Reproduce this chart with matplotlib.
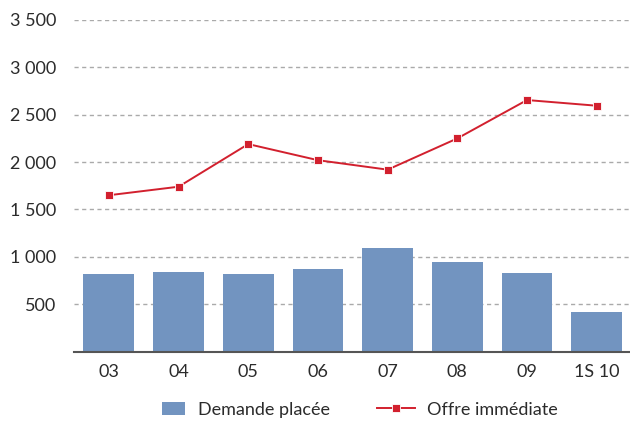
import matplotlib.pyplot as plt
from matplotlib.legend_handler import HandlerPatch
from matplotlib.patches import Rectangle
from matplotlib.ticker import FixedLocator, FuncFormatter

# Données (milliers de m²)
periodes = ["03", "04", "05", "06", "07", "08", "09", "1S 10"]
demande_placee = [820, 840, 820, 870, 1095, 945, 830, 420]
offre_immediate = [1650, 1740, 2190, 2020, 1920, 2250, 2655, 2595]
graduations = [500, 1000, 1500, 2000, 2500, 3000, 3500]

couleur_barres = "#7294c0"
couleur_ligne = "#d2202e"
couleur_texte = "#2b2b2b"

plt.rcParams["font.family"] = ["Lato", "DejaVu Sans"]


def carre_legende(legend, orig_handle, xdescent, ydescent, width, height, fontsize):
    # petit rectangle aligné à droite de la zone de symbole
    w = width * 0.62
    return Rectangle((width - w - xdescent, -ydescent), w, height)


fig = plt.figure(figsize=(6.3, 4.21), dpi=100)
ax = fig.add_axes([0.1175, 0.165, 0.885, 0.7875])

x = range(len(periodes))
barres = ax.bar(x, demande_placee, width=0.73, color=couleur_barres, zorder=2,
                label="Demande placée")
ligne, = ax.plot(x, offre_immediate, color=couleur_ligne, lw=1.4, marker="s",
                 markersize=6, markeredgecolor="white", markeredgewidth=0.6, zorder=3,
                 label="Offre immédiate")

ax.set_xlim(-0.5, 7.5)
ax.set_ylim(0, 3500)
ax.set_xticks(list(x))
ax.set_xticklabels(periodes)
ax.yaxis.set_major_locator(FixedLocator(graduations))
ax.yaxis.set_major_formatter(FuncFormatter(lambda v, p: f"{int(v):,}".replace(",", " ")))

ax.grid(axis="y", color="#aaaaaa", linestyle=(0, (3, 2.5)), linewidth=1.0, zorder=0)
ax.tick_params(axis="both", length=0, labelsize=13, colors=couleur_texte)
ax.tick_params(axis="y", pad=13)
ax.tick_params(axis="x", pad=9)

for cote in ["left", "right", "top"]:
    ax.spines[cote].set_visible(False)
ax.spines["bottom"].set_color("#555555")
ax.spines["bottom"].set_linewidth(1.5)
ax.spines["bottom"].set_zorder(4)

carre = barres.patches[0]
fig.legend(handles=[carre, ligne], labels=["Demande placée", "Offre immédiate"],
           loc="center", bbox_to_anchor=(0.56, 0.027),
           ncol=2, frameon=False, fontsize=13, handlelength=2.1, handleheight=0.8,
           columnspacing=2.6, handletextpad=0.7, labelcolor=couleur_texte,
           handler_map={carre: HandlerPatch(patch_func=carre_legende)})

fig.savefig("out.png", dpi=100)
